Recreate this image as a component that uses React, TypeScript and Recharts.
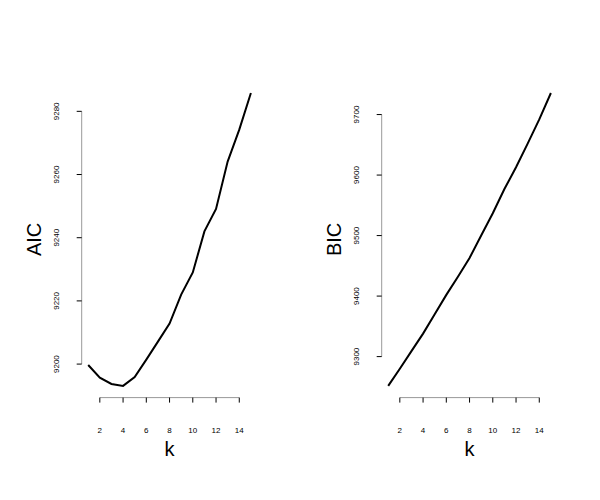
import React from 'react';
import { LineChart, Line, XAxis, YAxis, ReferenceLine, Label } from 'recharts';

const kValues = [1, 2, 3, 4, 5, 6, 7, 8, 9, 10, 11, 12, 13, 14, 15];
const aicValues = [9199.7, 9195.7, 9193.7, 9193.1, 9195.9, 9201.4, 9207.1, 9212.8, 9222.0, 9229.0, 9242.0, 9249.1, 9264.1, 9274.2, 9285.8];
const bicValues = [9251.6, 9280, 9309, 9338, 9370, 9402, 9432, 9463, 9500, 9537, 9577, 9613, 9652, 9692, 9735.6];
const kTicks = [2, 4, 6, 8, 10, 12, 14];
const aicTicks = [9200, 9220, 9240, 9260, 9280];
const bicTicks = [9300, 9400, 9500, 9600, 9700];

const FONT = '"Liberation Sans", Arial, Helvetica, sans-serif';

function padRange(vals: number[]): [number, number] {
  const lo = Math.min(...vals);
  const hi = Math.max(...vals);
  const p = (hi - lo) * 0.04;
  return [lo - p, hi + p];
}

const XTick = (props: any) => {
  const { x, y, payload } = props;
  return (
    <text x={x} y={y} dy={30.5} textAnchor="middle" fontSize={8} fontFamily={FONT} fill="#000">
      {payload.value}
    </text>
  );
};

const YTick = (props: any) => {
  const { x, y, payload } = props;
  const tx = x - 17.5;
  return (
    <text
      x={tx}
      y={y}
      transform={`rotate(-90, ${tx}, ${y})`}
      textAnchor="middle"
      fontSize={8}
      fontFamily={FONT}
      fill="#000"
    >
      {payload.value}
    </text>
  );
};

function Panel({ values, ticks, title }: { values: number[]; ticks: number[]; title: string }) {
  const data = kValues.map((k, i) => ({ k, v: values[i] }));
  const xDom = padRange(kValues);
  const yDom = padRange(values);
  return (
    <LineChart
      width={300}
      height={500}
      data={data}
      margin={{ top: 81.3, right: 42.6, bottom: 62.4, left: 31.7 }}
    >
      <XAxis
        dataKey="k"
        type="number"
        domain={xDom}
        ticks={kTicks}
        allowDataOverflow
        height={40}
        axisLine={false}
        tickLine={{ stroke: '#000', strokeWidth: 1 }}
        tickSize={5}
        tickMargin={0}
        tick={<XTick />}
        interval={0}
      >
        <Label
          content={(p: any) => {
            const vb = p.viewBox || {};
            return (
              <text
                x={vb.x + vb.width / 2}
                y={vb.y + 58.5}
                textAnchor="middle"
                fontSize={20}
                fontFamily={FONT}
                fill="#000"
              >
                k
              </text>
            );
          }}
        />
      </XAxis>
      <YAxis
        type="number"
        domain={yDom}
        ticks={ticks}
        allowDataOverflow
        width={50}
        axisLine={false}
        tickLine={{ stroke: '#000', strokeWidth: 1 }}
        tickSize={5}
        tickMargin={0}
        tick={<YTick />}
        interval={0}
      >
        <Label
          content={(p: any) => {
            const vb = p.viewBox || {};
            const tx = vb.x + vb.width - 40.7;
            const ty = vb.y + vb.height / 2;
            return (
              <text
                x={tx}
                y={ty}
                transform={`rotate(-90, ${tx}, ${ty})`}
                textAnchor="middle"
                fontSize={20}
                fontFamily={FONT}
                fill="#000"
              >
                {title}
              </text>
            );
          }}
        />
      </YAxis>
      <ReferenceLine
        segment={[
          { x: kTicks[0], y: yDom[0] },
          { x: kTicks[kTicks.length - 1], y: yDom[0] },
        ]}
        stroke="#999"
        strokeWidth={1}
        ifOverflow="visible"
      />
      <ReferenceLine
        segment={[
          { x: xDom[0], y: ticks[0] },
          { x: xDom[0], y: ticks[ticks.length - 1] },
        ]}
        stroke="#999"
        strokeWidth={1}
        ifOverflow="visible"
      />
      <Line
        type="linear"
        dataKey="v"
        stroke="#000"
        strokeWidth={2}
        dot={false}
        activeDot={false}
        isAnimationActive={false}
      />
    </LineChart>
  );
}

export default function App() {
  return (
    <div
      style={{
        position: 'absolute',
        left: 0,
        top: 0,
        width: 600,
        height: 500,
        background: '#fff',
        display: 'flex',
        flexDirection: 'row',
      }}
    >
      <Panel values={aicValues} ticks={aicTicks} title="AIC" />
      <Panel values={bicValues} ticks={bicTicks} title="BIC" />
    </div>
  );
}
